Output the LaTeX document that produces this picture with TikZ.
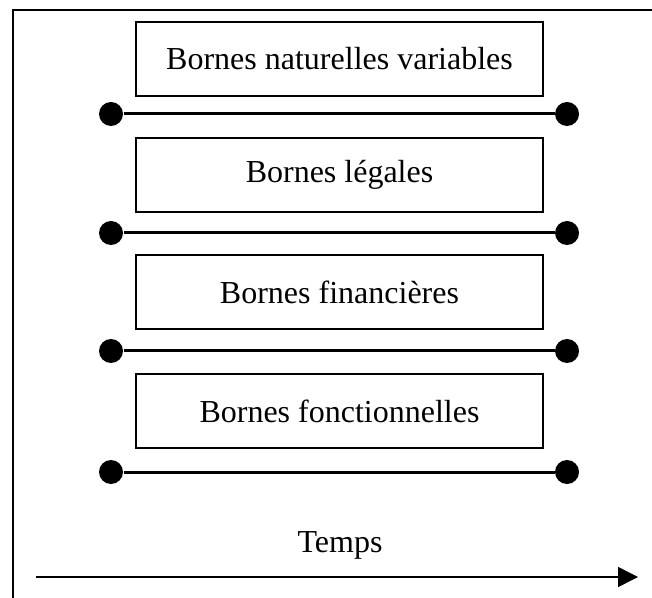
\documentclass[tikz,border=0pt]{standalone}
\usepackage{fontspec}
\setmainfont{Liberation Serif}
\usetikzlibrary{arrows.meta}

\begin{document}
\begin{tikzpicture}[x=0.4pt, y=-0.4pt]
% one unit is one pixel of the scanned figure
\def\px{0.4pt}
\tikzset{
  borne/.style={draw, line width=2*\px, minimum width=407*\px, minimum height=74*\px,
    inner sep=0pt, font=\fontsize{12.8}{15}\selectfont},
  dot/.style={circle, fill=black, inner sep=0pt, minimum size=24*\px},
  timeline/.style={line width=3*\px},
}
\useasboundingbox (0,0) rectangle (652,598);
% Frame (only left and top edges are visible)
\draw[line width=2*\px] (13,598) -- (13,10) -- (652,10);
% Boxes
\node[borne] (naturelles) at (339.5,59) {Bornes naturelles variables};
\node[borne] (legales) at (339.5,175) {Bornes légales};
\node[borne] (financieres) at (339.5,292) {Bornes financières};
\node[borne] (fonctionnelles) at (339.5,411) {Bornes fonctionnelles};
% Bounds with end points
\node[dot] (b1l) at (111,114) {};
\node[dot] (b1r) at (567,114) {};
\node[dot] (b2l) at (111,233) {};
\node[dot] (b2r) at (567,233) {};
\node[dot] (b3l) at (111,351) {};
\node[dot] (b3r) at (567,351) {};
\node[dot] (b4l) at (111,472) {};
\node[dot] (b4r) at (567,472) {};
\draw[timeline] (b1l) -- (b1r);
\draw[timeline] (b2l) -- (b2r);
\draw[timeline] (b3l) -- (b3r);
\draw[timeline] (b4l) -- (b4r);
% Time axis
\node[font=\fontsize{12.8}{15}\selectfont] (temps) at (340,545) {Temps};
\coordinate (t0) at (36,577);
\coordinate (t1) at (638,577);
\draw[line width=1.5*\px, -{Triangle[length=20*\px, width=20*\px]}] (t0) -- (t1);
\end{tikzpicture}
\end{document}
